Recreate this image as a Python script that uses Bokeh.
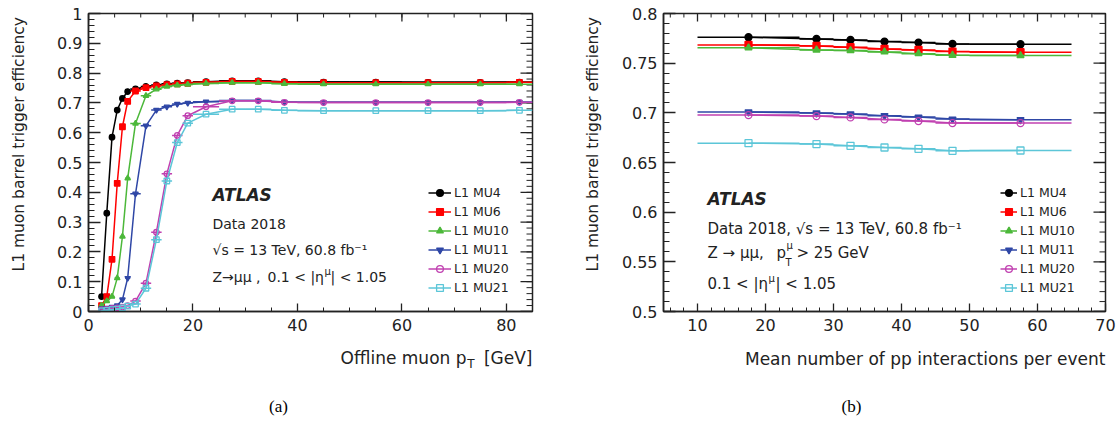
import math
from bokeh.plotting import figure
from bokeh.models import (Label, Legend, LegendItem, FixedTicker,
                          CustomJSTickFormatter, Range1d)
from bokeh.layouts import row, column
from bokeh.embed import file_html
from bokeh.resources import INLINE

# ---------------- data ----------------
series_names = ["L1 MU4", "L1 MU6", "L1 MU10", "L1 MU11", "L1 MU20", "L1 MU21"]

# (a) efficiency vs offline muon pT, bins [pt_lo, pt_hi]
pt_lo = [2, 3, 4, 5, 6, 7, 8, 10, 12, 14, 16, 18, 20, 25, 30, 35, 40, 50, 60, 70, 80]
pt_hi = [3, 4, 5, 6, 7, 8, 10, 12, 14, 16, 18, 20, 25, 30, 35, 40, 50, 60, 70, 80, 85]
eff_pt_mu4 = [0.05, 0.33, 0.585, 0.676, 0.715, 0.738, 0.747, 0.755, 0.760, 0.764, 0.766,
              0.768, 0.771, 0.774, 0.774, 0.771, 0.770, 0.770, 0.769, 0.769, 0.770]
eff_pt_mu6 = [0.02, 0.05, 0.175, 0.43, 0.62, 0.705, 0.740, 0.751, 0.757, 0.761, 0.764,
              0.766, 0.769, 0.772, 0.772, 0.769, 0.768, 0.768, 0.768, 0.768, 0.769]
eff_pt_mu10 = [0.02, 0.035, 0.05, 0.112, 0.252, 0.447, 0.631, 0.724, 0.746, 0.755, 0.759,
               0.762, 0.765, 0.768, 0.768, 0.764, 0.763, 0.763, 0.763, 0.763, 0.763]
eff_pt_mu11 = [0.01, 0.012, 0.015, 0.02, 0.04, 0.112, 0.395, 0.623, 0.676, 0.687, 0.696,
               0.700, 0.704, 0.708, 0.708, 0.703, 0.702, 0.702, 0.702, 0.702, 0.703]
eff_pt_mu20 = [0.005, 0.007, 0.01, 0.012, 0.015, 0.02, 0.035, 0.095, 0.266, 0.462, 0.591,
               0.657, 0.687, 0.707, 0.707, 0.702, 0.701, 0.701, 0.701, 0.701, 0.702]
eff_pt_mu21 = [0.002, 0.004, 0.006, 0.008, 0.012, 0.018, 0.025, 0.078, 0.241, 0.438, 0.567,
               0.632, 0.662, 0.679, 0.679, 0.675, 0.674, 0.674, 0.674, 0.674, 0.675]

# (b) efficiency vs mean number of pp interactions, bins [mu_lo, mu_hi]
mu_lo = [10, 25, 30, 35, 40, 45, 50]
mu_hi = [25, 30, 35, 40, 45, 50, 65]
eff_mu_mu4 = [0.7761, 0.7744, 0.7734, 0.7717, 0.7707, 0.7694, 0.7691]
eff_mu_mu6 = [0.7684, 0.7674, 0.7660, 0.7643, 0.7633, 0.7617, 0.7610]
eff_mu_mu10 = [0.7654, 0.7633, 0.7627, 0.7613, 0.7596, 0.7580, 0.7576]
eff_mu_mu11 = [0.7008, 0.6998, 0.6988, 0.6971, 0.6957, 0.6937, 0.6930]
eff_mu_mu20 = [0.6977, 0.6967, 0.6954, 0.6934, 0.6917, 0.6897, 0.6897]
eff_mu_mu21 = [0.6695, 0.6685, 0.6668, 0.6651, 0.6638, 0.6618, 0.6621]

# ticks
xticks_a = [0, 20, 40, 60, 80]
xminor_a = list(range(0, 86, 5))
yticks_a = [round(0.1 * i, 2) for i in range(11)]
yminor_a = [round(0.02 * i, 2) for i in range(51)]
xticks_b = [10, 20, 30, 40, 50, 60, 70]
xminor_b = list(range(6, 71, 2))
yticks_b = [round(0.5 + 0.05 * i, 2) for i in range(7)]
yminor_b = [round(0.5 + 0.01 * i, 2) for i in range(31)]

# ---------------- styles ----------------
colors = ["#000000", "#ff0000", "#4cb83a", "#2f47a6", "#c040b0", "#5cc6d8"]
markers = ["circle", "square", "triangle", "inverted_triangle", "circle", "square"]
filled = [True, True, True, True, False, False]
TXT = "#222222"
FONT = "DejaVu Sans"
TOP_H = 340
BOT_H = 83

fmt_code = """
var s = tick.toFixed(2);
s = s.replace(/0+$/, '');
s = s.replace(/\\.$/, '');
return s;
"""


def make_fig(width, bl, br, fw, fh, xr, yr, xt, xm, yt, ym):
    p = figure(width=width, height=TOP_H, x_range=Range1d(*xr), y_range=Range1d(*yr),
               output_backend="svg", toolbar_location=None,
               min_border_left=bl, min_border_right=br, min_border_top=13,
               min_border_bottom=TOP_H - 13 - fh)
    p.grid.visible = False
    p.outline_line_color = TXT
    p.outline_line_width = 1.5
    p.background_fill_color = "white"
    p.border_fill_color = "white"
    xa = p.below[0]
    ya = p.left[0]
    xa.ticker = FixedTicker(ticks=xt, minor_ticks=xm)
    ya.ticker = FixedTicker(ticks=yt, minor_ticks=ym)
    for ax, tin, mtin, so in ((xa, 8, 4, 7), (ya, 12, 6, 6)):
        ax.formatter = CustomJSTickFormatter(code=fmt_code)
        ax.major_tick_in = tin
        ax.major_tick_out = 0
        ax.minor_tick_in = mtin
        ax.minor_tick_out = 0
        ax.major_label_standoff = so
        ax.axis_line_color = TXT
        ax.axis_line_width = 1.5
        ax.major_tick_line_color = TXT
        ax.minor_tick_line_color = TXT
        ax.major_tick_line_width = 1.3
        ax.minor_tick_line_width = 1.0
        ax.major_label_text_font = FONT
        ax.major_label_text_color = TXT
        ax.major_label_text_font_size = "16px"
    # mirrored ticks on top and right frame edges
    dy = (yr[1] - yr[0]) / fh
    dx = (xr[1] - xr[0]) / fw
    for ticks, ln, lw in ((xm, 4, 1.0), (xt, 8, 1.3)):
        p.segment(ticks, [yr[1]] * len(ticks), ticks, [yr[1] - ln * dy] * len(ticks),
                  line_color=TXT, line_width=lw)
    for ticks, ln, lw in ((ym, 6, 1.0), (yt, 12, 1.3)):
        p.segment([xr[1]] * len(ticks), ticks, [xr[1] - ln * dx] * len(ticks), ticks,
                  line_color=TXT, line_width=lw)
    return p


def blank_fig(w, h):
    f = figure(width=w, height=h, x_range=Range1d(0, w), y_range=Range1d(0, h),
               output_backend="svg", toolbar_location=None,
               x_axis_type=None, y_axis_type=None, min_border=0)
    f.grid.visible = False
    f.outline_line_color = None
    f.background_fill_color = "white"
    f.border_fill_color = "white"
    return f


def txt(p, x, y, s, size="14px", style="normal", align="left", angle=0.0,
        font=FONT, color=TXT):
    p.add_layout(Label(x=x, y=y, x_units="screen", y_units="screen", text=s,
                       text_font=font, text_font_size=size, text_font_style=style,
                       text_color=color, text_align=align, text_baseline="middle",
                       angle=angle))


def draw_series(p, lo, hi, effs, msize):
    items = []
    for name, eff, c, m, f in zip(series_names, effs, colors, markers, filled):
        xc = [(a + b) / 2.0 for a, b in zip(lo, hi)]
        lr = p.line(xc, eff, line_color=c, line_width=1.5)
        p.segment(lo, eff, hi, eff, line_color=c, line_width=1.5)
        sr = p.scatter(xc, eff, marker=m, size=msize, line_color=c, line_width=1.3,
                       fill_color=c if f else None)
        items.append(LegendItem(label=name, renderers=[lr, sr]))
    return items


def add_legend(p, items, gw, loc):
    leg = Legend(items=items, location=loc, glyph_width=gw, glyph_height=17,
                 label_height=17, label_standoff=3, spacing=2, padding=0, margin=0,
                 border_line_color=None, background_fill_alpha=0,
                 label_text_font=FONT, label_text_font_size="12.5px",
                 label_text_color=TXT)
    p.add_layout(leg)


# ---------------- (a) ----------------
p1 = make_fig(528, 48, 36, 444, 298, (0, 85), (0, 1), xticks_a, xminor_a, yticks_a, yminor_a)
items1 = draw_series(p1, pt_lo, pt_hi,
                     [eff_pt_mu4, eff_pt_mu6, eff_pt_mu10, eff_pt_mu11, eff_pt_mu20, eff_pt_mu21],
                     5.5)
add_legend(p1, items1, 23, (340, 15))
txt(p1, 124, 117, "ATLAS", size="17px", style="bold italic")
txt(p1, 124, 88, "Data 2018")
txt(p1, 124, 62, "√s = 13 TeV, 60.8 fb⁻¹")
txt(p1, 124, 35, "Z→μμ ,")
txt(p1, 179, 35, "0.1 < |η")
txt(p1, 236, 40, "μ", size="10px")
txt(p1, 242, 35, "| < 1.05")

yl1 = blank_fig(40, TOP_H)
txt(yl1, 18, 40, "L1 muon barrel trigger efficiency", size="15.5px", align="left",
    angle=math.pi / 2)

b1 = blank_fig(568, BOT_H)
txt(b1, 532, 66, "[GeV]", size="17px", align="right")
txt(b1, 474, 60, "T", size="12px", align="right")
txt(b1, 466, 66, "Offline muon p", size="17px", align="right")
txt(b1, 278, 17, "(a)", size="17px", align="center", font="Liberation Serif",
    color="#000000")

# ---------------- (b) ----------------
p2 = make_fig(507, 50, 15, 442, 298, (5, 70), (0.5, 0.8), xticks_b, xminor_b, yticks_b, yminor_b)
items2 = draw_series(p2, mu_lo, mu_hi,
                     [eff_mu_mu4, eff_mu_mu6, eff_mu_mu10, eff_mu_mu11, eff_mu_mu20, eff_mu_mu21],
                     7)
add_legend(p2, items2, 17, (337, 15))
txt(p2, 44, 113, "ATLAS", size="17px", style="bold italic")
txt(p2, 44, 83, "Data 2018, √s = 13 TeV, 60.8 fb⁻¹", size="15px")
txt(p2, 44, 59, "Z → μμ,", size="15px")
txt(p2, 113, 59, "p", size="15px")
txt(p2, 122, 49, "T", size="10px")
txt(p2, 123, 66, "μ", size="10px")
txt(p2, 133, 59, "> 25 GeV", size="15px")
txt(p2, 44, 28, "0.1 < |η", size="15px")
txt(p2, 105, 33, "μ", size="10px")
txt(p2, 112, 28, "| < 1.05", size="15px")

yl2 = blank_fig(45, TOP_H)
txt(yl2, 24, 40, "L1 muon barrel trigger efficiency", size="15.5px", align="left",
    angle=math.pi / 2)

b2 = blank_fig(552, BOT_H)
txt(b2, 537, 65, "Mean number of pp interactions per event", size="17px", align="right")
txt(b2, 283, 17, "(b)", size="17px", align="center", font="Liberation Serif",
    color="#000000")

layout = row(column(row(yl1, p1), b1), column(row(yl2, p2), b2))
open("out.html", "w").write(file_html(layout, INLINE))
